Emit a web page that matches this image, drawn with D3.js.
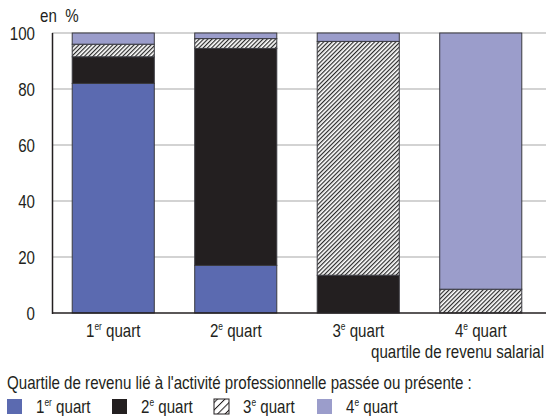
<!DOCTYPE html>
<html><head><meta charset="utf-8">
<script src="https://cdn.jsdelivr.net/npm/d3@7"></script>
<style>
body{margin:0;background:#fff;}
text{font-family:"Liberation Sans",Arial,sans-serif;fill:#231f20;}
</style></head>
<body>
<svg id="c" width="546" height="416"></svg>
<script>
const categories = ["1", "2", "3", "4"];
const catSup = ["er", "e", "e", "e"];
const seriesNames = ["1er quart", "2e quart", "3e quart", "4e quart"];
const q1 = [82, 17, 0, 0];
const q2 = [9.5, 77.5, 13.5, 0];
const q3 = [4.5, 3.5, 83.5, 8.5];
const q4 = [4, 2, 3, 91.5];
const yTicks = [0, 20, 40, 60, 80, 100];

const svg = d3.select("#c");
const defs = svg.append("defs");
const pat = defs.append("pattern").attr("id","hatch").attr("patternUnits","userSpaceOnUse")
  .attr("width",3).attr("height",3).attr("patternTransform","rotate(45)");
pat.append("rect").attr("width",3).attr("height",3).attr("fill","#fff");
pat.append("line").attr("x1",0.6).attr("y1",0).attr("x2",0.6).attr("y2",3).attr("stroke","#2a2a2a").attr("stroke-width",1.2);
const patL = defs.append("pattern").attr("id","hatchLeg").attr("patternUnits","userSpaceOnUse")
  .attr("width",5.3).attr("height",5.3).attr("patternTransform","translate(7,399) rotate(45)");
patL.append("rect").attr("width",5.3).attr("height",5.3).attr("fill","#fff");
patL.append("line").attr("x1",0.5).attr("y1",0).attr("x2",0.5).attr("y2",5.3).attr("stroke","#231f20").attr("stroke-width",1);

const colors = ["#5b6ab0", "#231f20", "url(#hatch)", "#9b9dcb"];
const legColors = ["#5b6ab0", "#231f20", "url(#hatchLeg)", "#9b9dcb"];
const x = d3.scaleBand().domain(categories).range([52, 542]).paddingInner(0.33).paddingOuter(0.165);
const y = d3.scaleLinear().domain([0, 100]).range([313, 33]);
const K = 0.84; // horizontal condensation of the font
const FS = 18;

function ctext(parent, tx, ty, anchor){
  return parent.append("g").attr("transform",`translate(${tx},${ty}) scale(${K},1)`)
    .append("text").attr("text-anchor",anchor||"start").attr("font-size",FS);
}

// gridlines
svg.append("g").selectAll("line").data(yTicks.filter(d=>d>0)).join("line")
  .attr("x1",52).attr("x2",546).attr("y1",d=>y(d)).attr("y2",d=>y(d))
  .attr("stroke","#c4c4c4").attr("stroke-width",1.5);

// stacked data
const table = categories.map((c,i)=>({cat:c, s0:q1[i], s1:q2[i], s2:q3[i], s3:q4[i]}));
const stack = d3.stack().keys(["s0","s1","s2","s3"])(table);
svg.append("g").selectAll("g").data(stack).join("g")
  .attr("fill",(d,i)=>colors[i])
  .selectAll("rect").data(d=>d.filter(v=>v[1]-v[0]>0)).join("rect")
  .attr("x",d=>x(d.data.cat)).attr("width",x.bandwidth())
  .attr("y",d=>y(d[1])).attr("height",d=>y(d[0])-y(d[1]))
  .attr("stroke","#3a3a40").attr("stroke-width",1);

// axes lines
svg.append("line").attr("x1",52.5).attr("x2",52.5).attr("y1",y(100)).attr("y2",y(0)+1).attr("stroke","#231f20").attr("stroke-width",1.5);
svg.append("line").attr("x1",52).attr("x2",546).attr("y1",y(0)).attr("y2",y(0)).attr("stroke","#231f20").attr("stroke-width",1.5);

// y tick labels
yTicks.forEach(t=>{ ctext(svg, 35, y(t)+6.5, "end").text(t); });
ctext(svg, 40, 22).text("en  %").style("white-space","pre");

// x labels
categories.forEach((c,i)=>{
  const t = ctext(svg, x(c)+x.bandwidth()/2, 337, "middle");
  t.append("tspan").text(c);
  t.append("tspan").attr("font-size",10).attr("dy",-7).text(catSup[i]);
  t.append("tspan").attr("dy",7).text(" quart");
});
ctext(svg, 544, 358, "end").text("quartile de revenu salarial");

// legend
ctext(svg, 7, 389).text("Quartile de revenu lié à l'activité professionnelle passée ou présente :");
const legX = [7, 112, 214, 317];
seriesNames.forEach((s,i)=>{
  svg.append("rect").attr("x",legX[i]).attr("y",399).attr("width",15).attr("height",15)
    .attr("fill",legColors[i]).attr("stroke",i===2?"#231f20":"none").attr("stroke-width",1);
  const t = ctext(svg, legX[i]+29, 413);
  t.append("tspan").text(s.slice(0,1));
  t.append("tspan").attr("font-size",10).attr("dy",-7).text(s.slice(1).split(" ")[0]);
  t.append("tspan").attr("dy",7).text(" quart");
});
</script>
</body></html>
